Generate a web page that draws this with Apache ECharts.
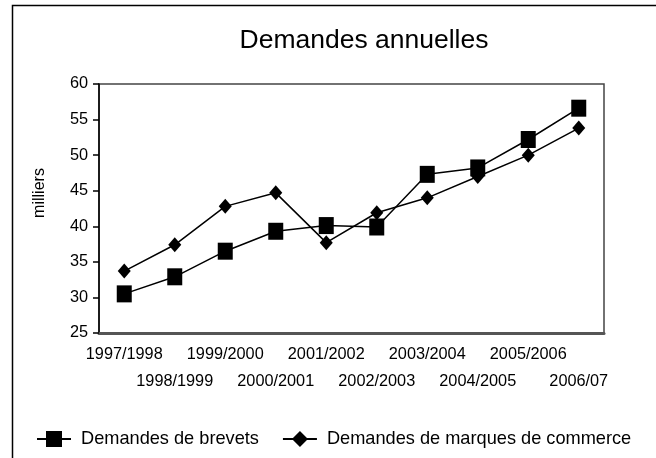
<!DOCTYPE html>
<html>
<head>
<meta charset="utf-8">
<script src="https://cdn.jsdelivr.net/npm/echarts@6/dist/echarts.min.js"></script>
<style>
  html, body { margin: 0; padding: 0; background: #fff; }
  #chart { width: 656px; height: 458px; }
</style>
</head>
<body>
<div id="chart"></div>
<script>
const years = ['1997/1998', '1998/1999', '1999/2000', '2000/2001', '2001/2002',
  '2002/2003', '2003/2004', '2004/2005', '2005/2006', '2006/07']
const brevets = [30.5, 32.9, 36.5, 39.3, 40.1, 39.9, 47.3, 48.2, 52.2, 56.6]
const marques = [33.7, 37.4, 42.8, 44.7, 37.7, 41.9, 44.0, 47.0, 50.0, 53.8]
const yTicks = { min: 25, max: 60, step: 5 }

const chart = echarts.init(document.getElementById('chart'))
const font = 'Liberation Sans, Arial, sans-serif'

chart.setOption({
  backgroundColor: '#fff',
  animation: false,
  title: {
    text: 'Demandes annuelles',
    left: 359,
    textAlign: 'center',
    top: 22,
    textStyle: { fontFamily: font, fontSize: 26.5, fontWeight: 'normal', color: '#000' }
  },
  graphic: [
    {
      type: 'polyline',
      shape: { points: [[656, 5.5], [12.5, 5.5], [12.5, 458]] },
      style: { stroke: '#000', lineWidth: 1.5, fill: null }
    },
    {
      type: 'text',
      x: 40, y: 193,
      rotation: Math.PI / 2,
      style: { text: 'milliers', fontFamily: font, fontSize: 16, fill: '#000',
        align: 'center', verticalAlign: 'middle' }
    }
  ],
  grid: {
    left: 99, right: 52, top: 84, bottom: 125,
    show: true, borderColor: '#444', borderWidth: 1.5, backgroundColor: 'transparent'
  },
  legend: {
    left: 31, top: 425,
    itemWidth: 34, itemHeight: 20, itemGap: 23,
    textStyle: { fontFamily: font, fontSize: 18.2, color: '#000', padding: [0, 0, 0, 5] },
    data: ['Demandes de brevets', 'Demandes de marques de commerce']
  },
  xAxis: {
    type: 'category',
    data: years,
    boundaryGap: true,
    axisLine: { lineStyle: { color: '#555', width: 3 } },
    axisTick: { inside: true, alignWithLabel: true, length: 11, lineStyle: { color: '#000', width: 1.5 } },
    axisLabel: {
      interval: 0, margin: 8, lineHeight: 27,
      fontFamily: font, fontSize: 16.3, color: '#000',
      formatter: (v, i) => (i % 2 ? '\n' + v : v)
    }
  },
  yAxis: {
    type: 'value',
    min: yTicks.min, max: yTicks.max, interval: yTicks.step,
    splitLine: { show: false },
    axisLine: { show: true, lineStyle: { color: '#000', width: 1.5 } },
    axisTick: { show: true, length: 6, lineStyle: { color: '#000', width: 1.5 } },
    axisLabel: { margin: 11, fontFamily: font, fontSize: 16.3, color: '#000' }
  },
  series: [
    {
      name: 'Demandes de brevets',
      type: 'line',
      data: brevets,
      symbol: 'rect',
      symbolSize: [15, 17],
      lineStyle: { color: '#000', width: 1.5 },
      itemStyle: { color: '#000' }
    },
    {
      name: 'Demandes de marques de commerce',
      type: 'line',
      data: marques,
      symbol: 'diamond',
      symbolSize: [13, 15],
      lineStyle: { color: '#000', width: 1.5 },
      itemStyle: { color: '#000' }
    }
  ]
})
</script>
</body>
</html>
